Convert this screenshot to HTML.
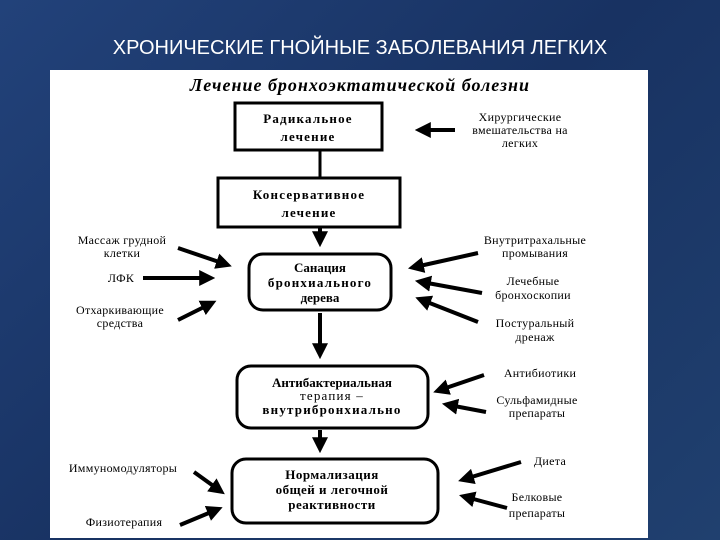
<!DOCTYPE html>
<html><head><meta charset="utf-8"><style>
body{margin:0;width:720px;height:540px;overflow:hidden;background:#1c3868;background:linear-gradient(135deg,#22427a,#183262 50%,#20406f);font-family:"Liberation Serif",serif;}
svg{position:absolute;left:0;top:0}
</style></head><body>
<svg width="720" height="540" viewBox="0 0 720 540">
<defs><marker id="a" markerWidth="4" markerHeight="4" refX="2.2" refY="2" orient="auto" markerUnits="strokeWidth"><path d="M0,0 L4,2 L0,4 Z" fill="#000"/></marker></defs>
<text x="360" y="54" fill="#fff" font-family="Liberation Sans" font-size="20" text-anchor="middle">ХРОНИЧЕСКИЕ ГНОЙНЫЕ ЗАБОЛЕВАНИЯ ЛЕГКИХ</text>
<rect x="50" y="70" width="598" height="468" fill="#fff"/>
<text x="360" y="91" font-size="18" font-style="italic" font-weight="bold" text-anchor="middle" letter-spacing="1">Лечение бронхоэктатической болезни</text>
<g fill="none" stroke="#000" stroke-width="3">
<rect x="235" y="103" width="147" height="47"/>
<rect x="218" y="178" width="182" height="49"/>
<rect x="249" y="254" width="142" height="56" rx="14"/>
<rect x="237" y="366" width="191" height="62" rx="14"/>
<rect x="232" y="459" width="206" height="64" rx="14"/>
<line x1="320" y1="150" x2="320" y2="178"/>
</g>
<g stroke="#000" stroke-width="4" marker-end="url(#a)">
<line x1="320" y1="227" x2="320" y2="240"/>
<line x1="320" y1="313" x2="320" y2="352"/>
<line x1="320" y1="430" x2="320" y2="446"/>
<line x1="455" y1="130" x2="422" y2="130"/>
<line x1="178" y1="248" x2="225" y2="264"/>
<line x1="143" y1="278" x2="208" y2="278"/>
<line x1="178" y1="320" x2="210" y2="304"/>
<line x1="478" y1="253" x2="415" y2="267"/>
<line x1="482" y1="293" x2="422" y2="282"/>
<line x1="478" y1="322" x2="422" y2="300"/>
<line x1="484" y1="375" x2="440" y2="390"/>
<line x1="486" y1="412" x2="449" y2="405"/>
<line x1="521" y1="462" x2="465" y2="479"/>
<line x1="507" y1="508" x2="466" y2="497"/>
<line x1="194" y1="472" x2="219" y2="490"/>
<line x1="180" y1="525" x2="216" y2="510"/>
</g>
<g font-size="13" font-weight="bold" text-anchor="middle" letter-spacing="1.2">
<text x="308" y="123">Радикальное</text><text x="308" y="141">лечение</text>
<text x="309" y="199">Консервативное</text><text x="309" y="217">лечение</text>
<text x="320" y="272" letter-spacing="0">Санация</text><text x="320" y="287">бронхиального</text><text x="320" y="302" letter-spacing="0">дерева</text>
<text x="332" y="387" letter-spacing="0">Антибактериальная</text><text x="332" y="400" font-weight="normal">терапия –</text><text x="332" y="414">внутрибронхиально</text>
<text x="332" y="479" letter-spacing="0.5">Нормализация</text><text x="332" y="494" letter-spacing="0.5">общей и легочной</text><text x="332" y="509" letter-spacing="0.5">реактивности</text>
</g>
<g font-size="12" text-anchor="middle" letter-spacing="0.3">
<text x="520" y="121">Хирургические</text><text x="520" y="134">вмешательства на</text><text x="520" y="147">легких</text>
<text x="122" y="244">Массаж грудной</text><text x="122" y="257">клетки</text>
<text x="121" y="282">ЛФК</text>
<text x="120" y="314">Отхаркивающие</text><text x="120" y="327">средства</text>
<text x="535" y="244">Внутритрахальные</text><text x="535" y="257">промывания</text>
<text x="533" y="285">Лечебные</text><text x="533" y="299">бронхоскопии</text>
<text x="535" y="327">Постуральный</text><text x="535" y="341">дренаж</text>
<text x="540" y="377">Антибиотики</text>
<text x="537" y="404">Сульфамидные</text><text x="537" y="417">препараты</text>
<text x="550" y="465">Диета</text>
<text x="537" y="501">Белковые</text><text x="537" y="517">препараты</text>
<text x="123" y="472">Иммуномодуляторы</text>
<text x="124" y="526">Физиотерапия</text>
</g>
</svg>
</body></html>
